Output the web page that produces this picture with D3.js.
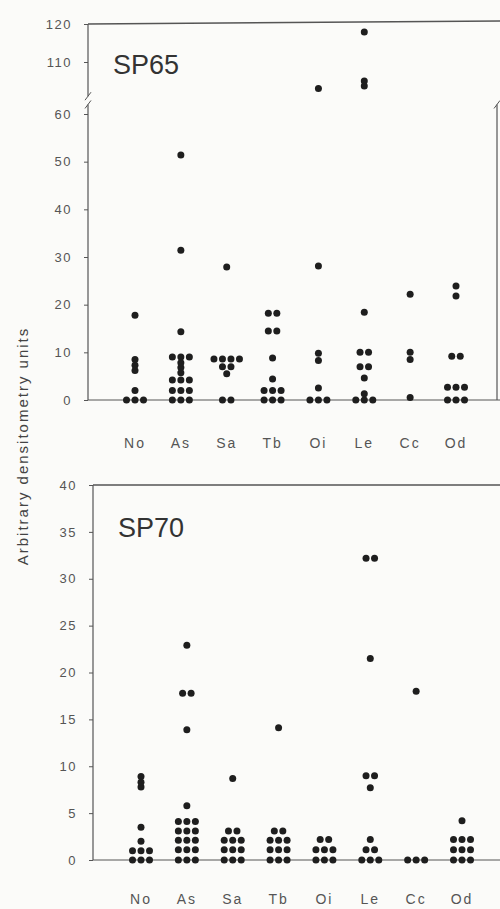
<!DOCTYPE html>
<html>
<head>
<meta charset="utf-8">
<script src="https://cdnjs.cloudflare.com/ajax/libs/d3/7.8.5/d3.min.js"></script>
<style>
  body { margin: 0; background: #fbfbf9; }
  text { font-family: "Liberation Sans", Arial, sans-serif; }
</style>
</head>
<body>
<div id="chart"></div>
<script>
// categories + values (one array per category)
const categories = ["No", "As", "Sa", "Tb", "Oi", "Le", "Cc", "Od"];

const sp65 = [
  [0, 0, 0, 2, 6.2, 7.3, 8.5, 17.8],
  [0, 0, 0, 2, 2, 2, 4.2, 4.2, 4.2, 5.7, 6.8, 7.8, 9, 9, 9, 14.3, 31.4, 51.4],
  [0, 0, 5.5, 7, 7, 8.6, 8.6, 8.6, 8.6, 27.9],
  [0, 0, 0, 2, 2, 2, 4.4, 8.8, 14.5, 14.5, 18.2, 18.2],
  [0, 0, 0, 2.5, 8.3, 9.8, 28.1, 103],
  [0, 0, 0, 1.3, 4.6, 7, 7, 10, 10, 18.4, 103.7, 105, 117.9],
  [0.5, 8.5, 10, 22.2],
  [0, 0, 0, 2.7, 2.7, 2.7, 9.2, 9.2, 21.8, 23.9],
];

const sp70 = [
  [0, 0, 0, 1, 1, 1, 2, 3.5, 7.8, 8.3, 8.9],
  [0, 0, 0, 1.1, 1.1, 1.1, 2.1, 2.1, 2.1, 3.1, 3.1, 3.1, 4.1, 4.1, 4.1, 5.8, 13.9, 17.8, 17.8, 22.9],
  [0, 0, 0, 1.1, 1.1, 1.1, 2.1, 2.1, 2.1, 3.1, 3.1, 8.7],
  [0, 0, 0, 1.1, 1.1, 1.1, 2.1, 2.1, 2.1, 3.1, 3.1, 14.1],
  [0, 0, 0, 1.1, 1.1, 1.1, 2.2, 2.2],
  [0, 0, 0, 1.1, 1.1, 2.2, 7.7, 9, 9, 21.5, 32.2, 32.2],
  [0, 0, 0, 18],
  [0, 0, 0, 1.1, 1.1, 1.1, 2.2, 2.2, 2.2, 4.2],
];

const sp65Ticks = [0, 10, 20, 30, 40, 50, 60];
const sp65HighTicks = [110, 120];
const sp70Ticks = [0, 5, 10, 15, 20, 25, 30, 35, 40];

const ink = "#1e1e1e", axisCol = "#555", textCol = "#555";

const svg = d3.select("#chart").append("svg")
  .attr("width", 500)
  .attr("height", 909);

// dots with the same value sit side by side in a row
function drawDots(g, data, x, yFn) {
  const pts = [];
  data.forEach((vals, i) => {
    d3.groups(vals, v => v).forEach(([v, arr]) => {
      arr.forEach((_, j) => {
        pts.push({ cat: categories[i], v, off: (j - (arr.length - 1) / 2) * 8.5 });
      });
    });
  });
  g.selectAll("circle")
    .data(pts)
    .join("circle")
    .attr("cx", d => x(d.cat) + d.off)
    .attr("cy", d => yFn(d.v))
    .attr("r", 3.5)
    .attr("fill", ink);
}

function styleAxis(sel) {
  sel.select(".domain").remove();
  sel.selectAll(".tick line").attr("stroke", axisCol);
  sel.selectAll(".tick text")
    .attr("fill", textCol)
    .style("font-size", "13px")
    .style("letter-spacing", "1.5px")
    .style("font-family", "'Liberation Sans', Arial, sans-serif");
}

function line(g, x1, y1, x2, y2, w = 1.2) {
  g.append("line")
    .attr("x1", x1).attr("y1", y1).attr("x2", x2).attr("y2", y2)
    .attr("stroke", axisCol).attr("stroke-width", w);
}

function slash(g, x, y) {
  line(g, x - 3, y + 4, x + 3, y - 4, 1);
}

function xLabels(g, x, y) {
  g.append("g")
    .selectAll("text")
    .data(categories)
    .join("text")
    .attr("x", d => x(d))
    .attr("y", y)
    .attr("text-anchor", "middle")
    .attr("fill", textCol)
    .style("font-size", "14px")
    .style("letter-spacing", "2px")
    .text(d => d);
}

// ---- SP65 (broken axis) ----
function topPanel() {
  const g = svg.append("g");
  const axX = 88;
  const x = d3.scalePoint().domain(categories).range([135, 456]);
  const yLow = d3.scaleLinear().domain([0, 60]).range([400, 114]);
  const yHigh = d3.scaleLinear().domain([100, 120]).range([100, 24]);
  const yFn = v => (v > 60 ? yHigh(v) : yLow(v));

  g.append("g").attr("transform", `translate(${axX},0)`)
    .call(d3.axisLeft(yLow).tickValues(sp65Ticks).tickSize(4).tickPadding(12))
    .call(styleAxis);
  g.append("g").attr("transform", `translate(${axX},0)`)
    .call(d3.axisLeft(yHigh).tickValues(sp65HighTicks).tickSize(4).tickPadding(12))
    .call(styleAxis);

  // axis lines + frame
  line(g, axX, yHigh(120), axX, yHigh(101));
  line(g, axX, yLow(62), axX, yLow(0));
  slash(g, axX, yHigh(101));
  slash(g, axX, yLow(62));
  line(g, axX, yHigh(120), 500, yHigh(120) - 3, 1.4);
  line(g, 497, yLow(62), 497, yLow(0));
  slash(g, 497, yLow(62));
  line(g, axX, yLow(0), 500, yLow(0), 1);

  drawDots(g.append("g"), sp65, x, yFn);
  xLabels(g, x, 448);

  g.append("text")
    .attr("x", 113).attr("y", 74)
    .attr("fill", "#333")
    .style("font-size", "27px")
    .text("SP65");
}

// ---- SP70 ----
function bottomPanel() {
  const g = svg.append("g");
  const axX = 93;
  const x = d3.scalePoint().domain(categories).range([141, 462]);
  const y = d3.scaleLinear().domain([0, 40]).range([860, 485]);

  g.append("g").attr("transform", `translate(${axX},0)`)
    .call(d3.axisLeft(y).tickValues(sp70Ticks).tickSize(4).tickPadding(12))
    .call(styleAxis);

  line(g, axX, y(40), axX, y(0));
  line(g, axX, y(40), 500, y(40), 1.4);
  line(g, axX, y(0), 500, y(0), 1);

  drawDots(g.append("g"), sp70, x, y);
  xLabels(g, x, 904);

  g.append("text")
    .attr("x", 118).attr("y", 537)
    .attr("fill", "#333")
    .style("font-size", "27px")
    .text("SP70");
}

topPanel();
bottomPanel();

// shared y title
svg.append("g")
  .attr("transform", "translate(28,446) rotate(-90)")
  .append("text")
  .attr("text-anchor", "middle")
  .attr("fill", "#444")
  .style("font-size", "15px")
  .style("letter-spacing", "2px")
  .text("Arbitrary densitometry units");
</script>
</body>
</html>
